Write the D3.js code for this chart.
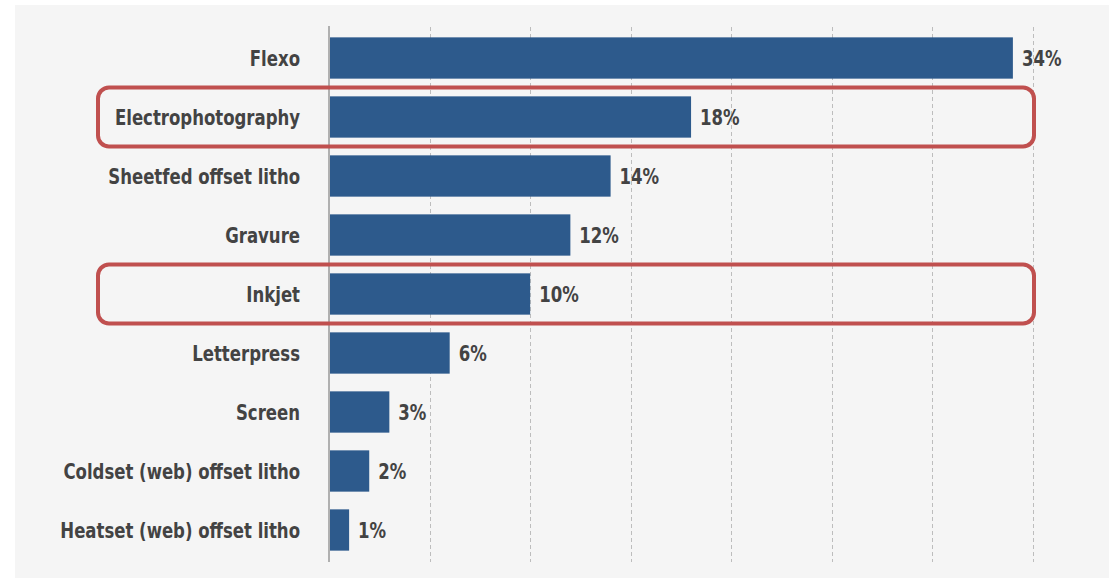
<!DOCTYPE html>
<html><head><meta charset="utf-8">
<script src="https://cdn.jsdelivr.net/npm/d3@7"></script>
<style>
html,body{margin:0;padding:0;background:#fff;}
svg text{font-family:"Liberation Sans Narrow","DejaVu Sans Condensed","Roboto",sans-serif;font-weight:bold;}
</style></head>
<body><svg id="c" width="1112" height="578"></svg>
<script>
const categories = ["Flexo","Electrophotography","Sheetfed offset litho","Gravure","Inkjet","Letterpress","Screen","Coldset (web) offset litho","Heatset (web) offset litho"];
const values = [34,18,14,12,10,6,3,2,1];
const valueLabels = ["34%","18%","14%","12%","10%","6%","3%","2%","1%"];
const gridTicks = [5,10,15,20,25,30,35];
const highlighted = ["Electrophotography","Inkjet"];

const svg = d3.select("#c");
svg.append("rect").attr("x",15).attr("y",5).attr("width",1094).attr("height",573).attr("fill","#f5f5f5");

const x = d3.scaleLinear().domain([0,35]).range([329,1033]);
const y = d3.scaleBand().domain(categories).range([28.5,559.5]).paddingInner(0.3).paddingOuter(0.15);
const sx = 0.875, fs = 21;

// grid
svg.append("g").selectAll("line").data(gridTicks).join("line")
  .attr("x1",d=>Math.round(x(d))+0.5).attr("x2",d=>Math.round(x(d))+0.5)
  .attr("y1",27).attr("y2",562)
  .attr("stroke","#bdbdbd").attr("stroke-width",1).attr("stroke-dasharray","4,3");

// bars
svg.append("g").selectAll("rect").data(values).join("rect")
  .attr("x",x(0)).attr("y",(d,i)=>y(categories[i]))
  .attr("width",d=>x(d)-x(0)).attr("height",y.bandwidth())
  .attr("fill","#2d5a8c");

// axis line
svg.append("line").attr("x1",x(0)).attr("x2",x(0)).attr("y1",26).attr("y2",562)
  .attr("stroke","#b0b0b0").attr("stroke-width",2);

// category labels
svg.append("g").selectAll("text").data(categories).join("text")
  .attr("transform",d=>`translate(300,${y(d)+y.bandwidth()/2}) scale(${sx},1)`)
  .attr("dy","0.36em")
  .attr("text-anchor","end").attr("font-size",fs).attr("fill","#434343").text(d=>d);

// value labels
svg.append("g").selectAll("text").data(values).join("text")
  .attr("transform",(d,i)=>`translate(${x(d)+9},${y(categories[i])+y.bandwidth()/2}) scale(${sx},1)`)
  .attr("dy","0.38em")
  .attr("font-size",fs).attr("fill","#434343").text((d,i)=>valueLabels[i]);

// highlight boxes
svg.append("g").selectAll("rect").data(highlighted).join("rect")
  .attr("x",98).attr("y",d=>y(d)+y.bandwidth()/2-29.5)
  .attr("width",936).attr("height",59).attr("rx",11).attr("ry",11)
  .attr("fill","none").attr("stroke","#c0504f").attr("stroke-width",4);
</script></body></html>
